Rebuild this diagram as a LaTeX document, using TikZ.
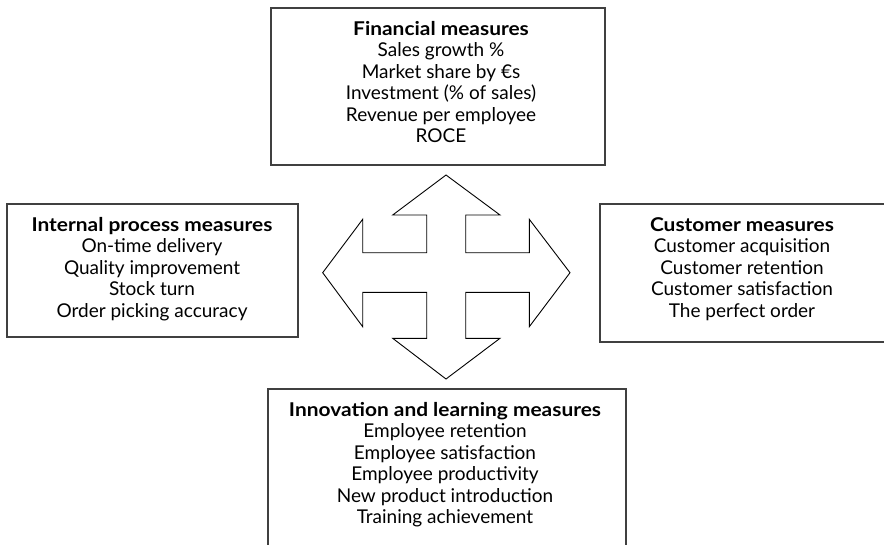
\documentclass[tikz,border=0pt]{standalone}
\usepackage{fontspec}
\usepackage{graphicx}
\setmainfont{Lato}
\newcommand{\ttl}[1]{\scalebox{1.1}[1]{\textbf{#1}}}
\begin{document}
\begin{tikzpicture}[x=1pt,y=-1pt,
  boxline/.style={draw=black!75, line width=1.2pt},
  arrowline/.style={draw=black, line width=0.9pt, line join=miter},
  txt/.style={align=center, font=\fontsize{19}{21.5}\selectfont, inner sep=0pt, anchor=north}]
\useasboundingbox (0,0) rectangle (884,544);
\clip (0,0) rectangle (884,544);
% boxes
\draw[boxline] (271,8) rectangle (605,165);
\draw[boxline] (7,204) rectangle (298,337);
\draw[boxline] (600,204) rectangle (900,342);
\draw[boxline] (268,389) rectangle (626,560);
% texts
\node[txt] (fin) at (441,21) {\ttl{Financial measures}\\Sales growth \%\\Market share by €s\\Investment (\% of sales)\\Revenue per employee\\ROCE};
\node[txt] (int) at (152,217) {\ttl{Internal process measures}\\On-time delivery\\Quality improvement\\Stock turn\\Order picking accuracy};
\node[txt] (cus) at (742,217) {\ttl{Customer measures}\\Customer acquisition\\Customer retention\\Customer satisfaction\\The perfect order};
\node[txt] (inn) at (445,402) {\ttl{Innovation and learning measures}\\Employee retention\\Employee satisfaction\\Employee productivity\\New product introduction\\Training achievement};
% four-way arrow
\draw[arrowline, fill=white]
  (446,175) -- (500,215) -- (465.7,215) -- (465.7,252.7) -- (529.3,252.7) -- (529.3,219.3)
  -- (570,272.7) -- (529.3,326.7) -- (529.3,292.3) -- (465.7,292.3) -- (465.7,338.3) -- (500,338.3)
  -- (446,379) -- (392.7,338.3) -- (426.7,338.3) -- (426.7,292.3) -- (362.7,292.3) -- (362.7,326.7)
  -- (322.7,272.7) -- (362.7,219.3) -- (362.7,252.7) -- (426.7,252.7) -- (426.7,215) -- (392.7,215) -- cycle;
\end{tikzpicture}
\end{document}
